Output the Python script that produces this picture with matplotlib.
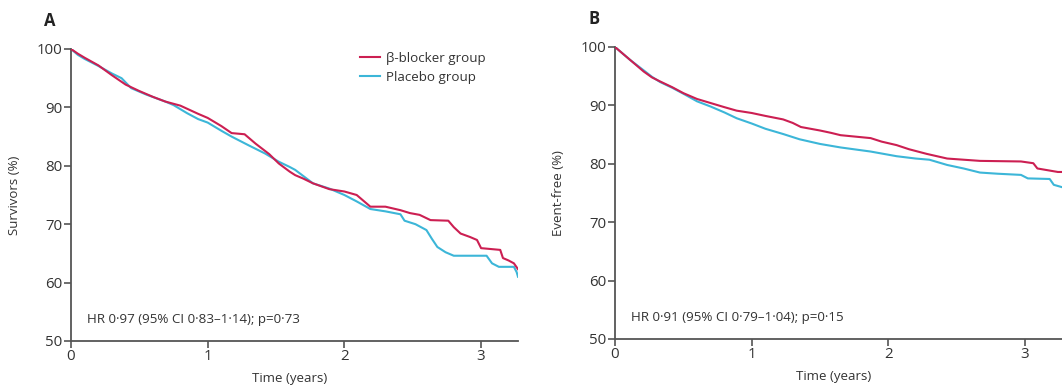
import matplotlib
matplotlib.use("Agg")
import matplotlib.pyplot as plt

# ---- data ----
a_red_t = [0, 0.05, 0.1, 0.2, 0.3, 0.4, 0.5, 0.6, 0.69, 0.8, 0.93, 1.0, 1.1, 1.175, 1.27,
           1.35, 1.45, 1.52, 1.6, 1.64, 1.7, 1.77, 1.89, 2.0, 2.09, 2.15, 2.19, 2.3, 2.41,
           2.48, 2.55, 2.63, 2.76, 2.8, 2.85, 2.92, 2.97, 3.0, 3.14, 3.16, 3.2, 3.24, 3.27]
a_red_v = [100, 99.2, 98.5, 97.2, 95.5, 93.9, 92.8, 91.8, 91.0, 90.3, 88.9, 88.2, 86.8, 85.6, 85.4,
           83.8, 82.0, 80.4, 79.0, 78.4, 77.8, 77.0, 76.0, 75.6, 75.0, 73.8, 73.0, 73.0, 72.4,
           71.9, 71.6, 70.7, 70.6, 69.5, 68.4, 67.8, 67.3, 65.9, 65.6, 64.2, 63.8, 63.3, 62.3]

a_blue_t = [0, 0.05, 0.1, 0.2, 0.3, 0.37, 0.44, 0.55, 0.69, 0.75, 0.85, 0.93, 1.0, 1.1, 1.175,
            1.3, 1.42, 1.52, 1.6, 1.64, 1.77, 1.89, 2.0, 2.09, 2.19, 2.3, 2.41, 2.44, 2.52,
            2.6, 2.64, 2.68, 2.74, 2.8, 3.04, 3.08, 3.13, 3.24, 3.26, 3.27]
a_blue_v = [100, 99.0, 98.3, 97.1, 95.8, 95.0, 93.3, 92.2, 91.0, 90.4, 89.0, 88.0, 87.4, 86.0, 85.0,
            83.5, 82.1, 80.7, 79.8, 79.3, 77.0, 76.1, 75.0, 73.9, 72.6, 72.2, 71.7, 70.6, 70.0,
            69.0, 67.5, 66.1, 65.2, 64.6, 64.6, 63.3, 62.7, 62.7, 61.8, 61.0]

b_red_t = [0, 0.05, 0.11, 0.16, 0.21, 0.27, 0.33, 0.42, 0.5, 0.6, 0.7, 0.8, 0.89, 1.0, 1.1,
           1.23, 1.3, 1.36, 1.5, 1.58, 1.65, 1.87, 1.95, 2.06, 2.15, 2.28, 2.43, 2.55, 2.67,
           2.97, 3.06, 3.09, 3.24, 3.27]
b_red_v = [100, 99.0, 97.8, 96.8, 95.8, 94.8, 94.1, 93.1, 92.1, 91.1, 90.4, 89.7, 89.1, 88.7, 88.2,
           87.6, 87.0, 86.3, 85.7, 85.3, 84.9, 84.4, 83.8, 83.2, 82.5, 81.7, 80.9, 80.7, 80.5,
           80.4, 80.1, 79.2, 78.6, 78.6]

b_blue_t = [0, 0.11, 0.21, 0.27, 0.33, 0.42, 0.5, 0.6, 0.7, 0.8, 0.89, 1.0, 1.1, 1.23, 1.35,
            1.5, 1.65, 1.87, 2.06, 2.2, 2.3, 2.43, 2.55, 2.67, 2.8, 2.97, 3.02, 3.18, 3.21, 3.27]
b_blue_v = [100, 97.8, 96.0, 94.9, 94.0, 93.0, 92.0, 90.7, 89.8, 88.8, 87.8, 86.9, 86.0, 85.1, 84.2,
            83.4, 82.8, 82.1, 81.3, 80.9, 80.7, 79.8, 79.2, 78.5, 78.3, 78.1, 77.5, 77.4, 76.4, 76.0]

series_labels = ["β-blocker group", "Placebo group"]
x_ticks = [0, 1, 2, 3]
y_ticks = [50, 60, 70, 80, 90, 100]
hr_a = "HR 0·97 (95% CI 0·83–1·14); p=0·73"
hr_b = "HR 0·91 (95% CI 0·79–1·04); p=0·15"

RED = "#cc1f52"
BLUE = "#3cb6d8"
TXT = "#333333"
SPINE = "#555555"

plt.rcParams["font.family"] = ["Open Sans", "DejaVu Sans"]

fig = plt.figure(figsize=(10.62, 3.86), dpi=100)
axA = fig.add_axes([71/1062, 45/386, 447/1062, 292/386])
axB = fig.add_axes([615/1062, 47/386, 447/1062, 292/386])


def style(ax, ylabel):
    ax.set_xlim(0, 3.27)
    ax.set_ylim(50, 100)
    ax.set_xticks(x_ticks)
    ax.set_yticks(y_ticks)
    for s in ["top", "right"]:
        ax.spines[s].set_visible(False)
    for s in ["left", "bottom"]:
        ax.spines[s].set_color(SPINE)
        ax.spines[s].set_linewidth(1.3)
    ax.tick_params(axis="both", direction="out", length=5, width=1.2, color=SPINE,
                   labelsize=10.8, labelcolor=TXT, pad=1)
    ax.set_xlabel("Time (years)", fontsize=9.5, color=TXT, va="center")
    ax.set_ylabel(ylabel, fontsize=9.5, color=TXT, va="center")
    ax.xaxis.set_label_coords(0.49, -0.127)
    ax.yaxis.set_label_coords(-0.1275, 0.5)


axA.plot(a_red_t, a_red_v, color=RED, lw=1.5, label=series_labels[0], zorder=3)
axA.plot(a_blue_t, a_blue_v, color=BLUE, lw=1.5, label=series_labels[1], zorder=2)
style(axA, "Survivors (%)")
axA.text(0.117, 53.6, hr_a, fontsize=9.6, color=TXT, va="center", ha="left")
axA.legend(loc="upper left", bbox_to_anchor=(0.646, 0.99), frameon=False, fontsize=9.6,
           handlelength=1.5, handletextpad=0.5, borderpad=0, borderaxespad=0, labelspacing=0.45,
           labelcolor=TXT)

axB.plot(b_red_t, b_red_v, color=RED, lw=1.5, zorder=3)
axB.plot(b_blue_t, b_blue_v, color=BLUE, lw=1.5, zorder=2)
style(axB, "Event-free (%)")
axB.text(0.117, 53.6, hr_b, fontsize=9.6, color=TXT, va="center", ha="left")

fig.text(50/1062, 1 - 21/386, "A", fontsize=12, fontweight="bold", color="#222222", ha="center", va="center")
fig.text(594/1062, 1 - 19/386, "B", fontsize=12, fontweight="bold", color="#222222", ha="center", va="center")

fig.savefig("out.png", dpi=100, facecolor="white")
